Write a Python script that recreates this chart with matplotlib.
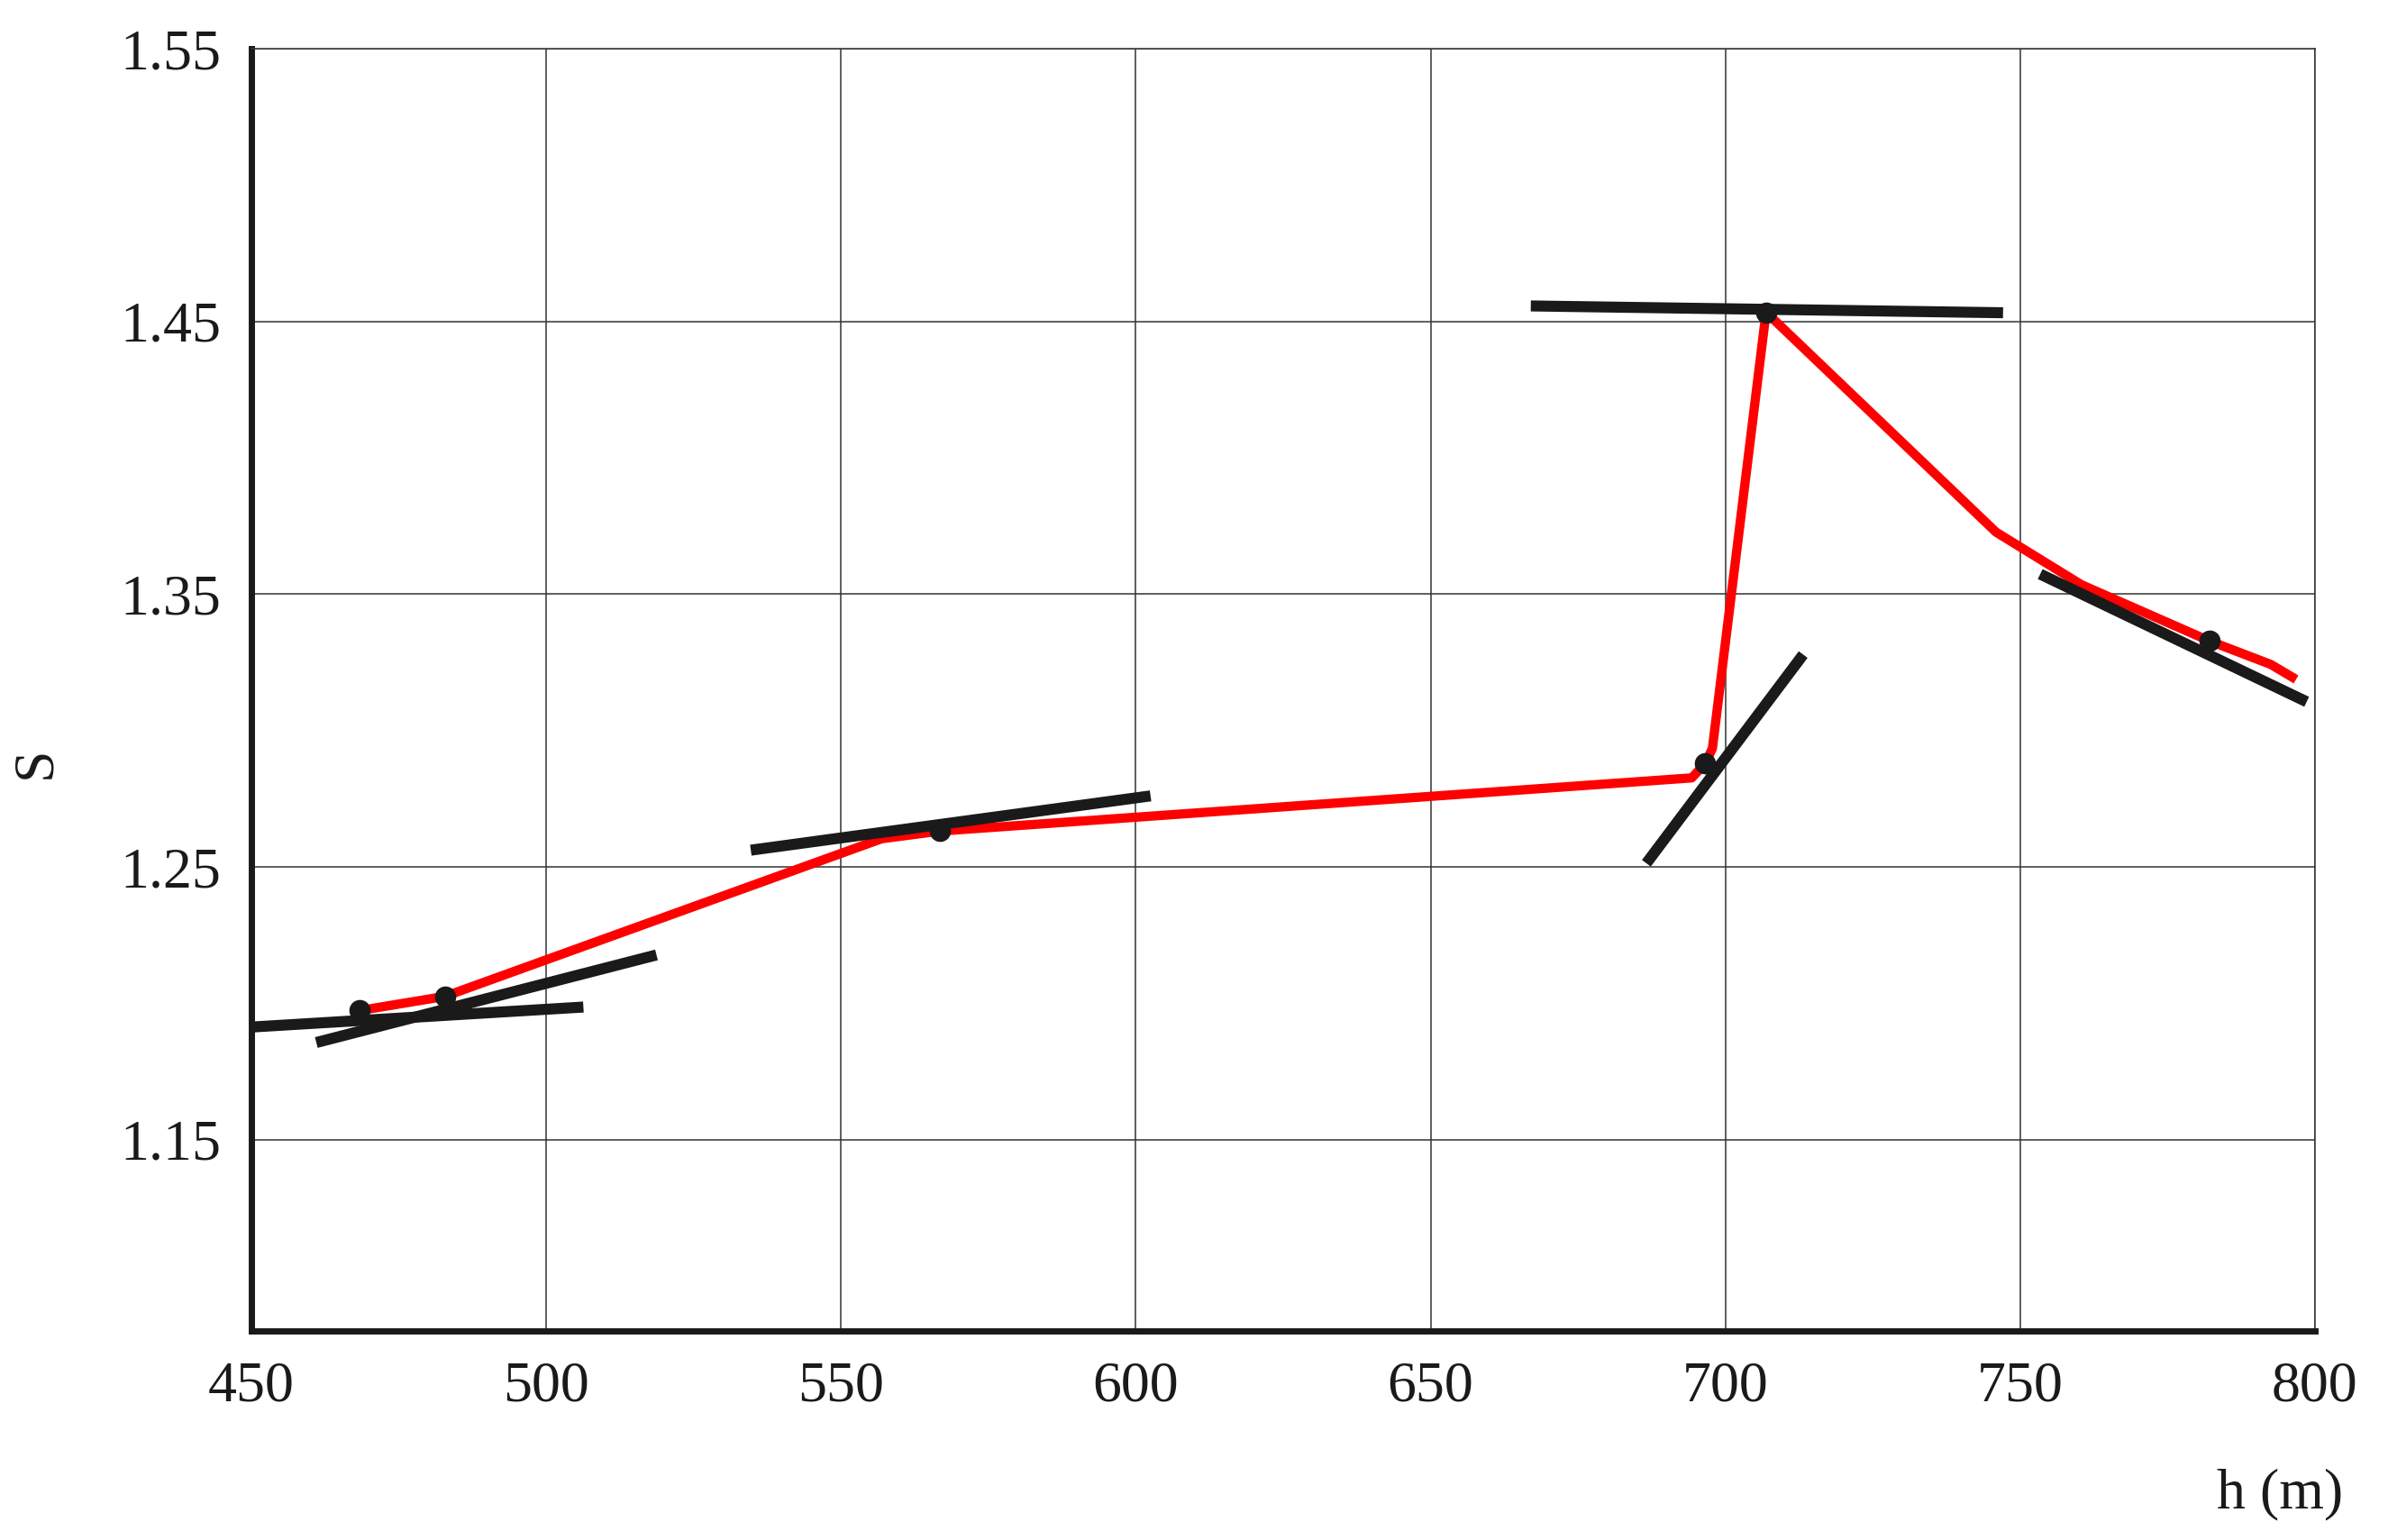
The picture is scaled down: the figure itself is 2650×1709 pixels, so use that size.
import matplotlib
matplotlib.use("Agg")
import matplotlib.pyplot as plt

plt.rcParams['font.family'] = ['Liberation Serif', 'DejaVu Serif']

# red curve S(h)
h_curve = [468.3, 482.8, 556.9, 566.8, 694.3, 696.6, 697.8, 706.9, 745.9, 760.4, 782.1, 792.5, 796.8]
s_curve = [1.1974, 1.2026, 1.2604, 1.2632, 1.2827, 1.2880, 1.2935, 1.4534, 1.3728, 1.3535, 1.3329, 1.3243, 1.3188]

# marked points
h_pts = [468.3, 482.8, 566.8, 696.6, 706.9, 782.1]
s_pts = [1.1974, 1.2026, 1.2632, 1.2880, 1.4533, 1.3329]

# tangent segments (start / end)
tan_h0 = [449.5, 461.0, 534.7, 686.6, 667.0, 753.4]
tan_h1 = [506.3, 518.7, 602.5, 713.2, 747.1, 798.6]
tan_s0 = [1.1913, 1.1857, 1.2562, 1.2514, 1.4557, 1.3574]
tan_s1 = [1.1987, 1.2178, 1.2761, 1.3279, 1.4532, 1.3106]

x_ticks = [450, 500, 550, 600, 650, 700, 750, 800]
y_ticks = [1.15, 1.25, 1.35, 1.45, 1.55]

INK = '#1a1a1a'

fig = plt.figure(figsize=(26.5, 17.09), dpi=100)
ax = fig.add_axes([0.1053, 0.1358, 0.8641, 0.8326])

ax.plot(h_curve, s_curve, color='#ff0000', lw=7.4, solid_capstyle='butt',
        solid_joinstyle='round', zorder=3)
for a, b, c, d in zip(tan_h0, tan_h1, tan_s0, tan_s1):
    ax.plot([a, b], [c, d], color=INK, lw=8.8, solid_capstyle='butt', zorder=4)
ax.plot(h_pts, s_pts, 'o', color=INK, ms=16, zorder=5)

ax.set_xlim(450, 800)
ax.set_ylim(1.08, 1.55)
ax.set_xticks(x_ticks)
ax.set_yticks(y_ticks)
ax.set_xticklabels([str(v) for v in x_ticks])
ax.set_yticklabels(['%.2f' % v for v in y_ticks])
ax.grid(True, color='#333333', lw=1.1, zorder=0)
ax.tick_params(length=0, labelsize=46, colors=INK, pad=24)

for side in ['left', 'bottom']:
    ax.spines[side].set_linewidth(5)
    ax.spines[side].set_color(INK)
for side in ['top', 'right']:
    ax.spines[side].set_linewidth(1.1)
    ax.spines[side].set_color('#333333')

fig.text(0.0151, 0.505, 'S', rotation=90, ha='center', va='center',
         fontsize=46, color=INK)
fig.text(0.981, 0.021, 'h (m)', ha='right', va='baseline',
         fontsize=46, color=INK)

fig.savefig('out.png', dpi=100, facecolor='white')
